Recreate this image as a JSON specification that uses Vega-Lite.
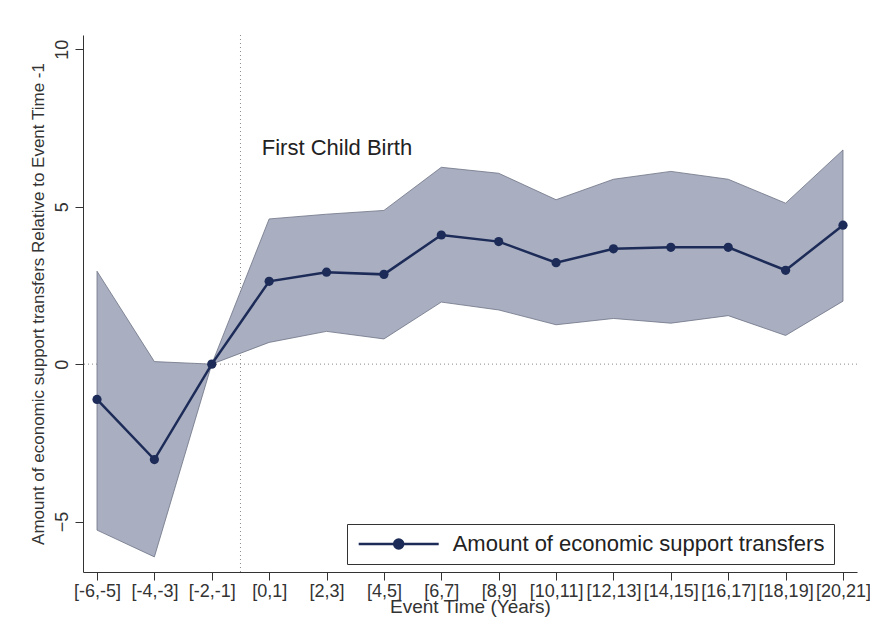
{
  "$schema": "https://vega.github.io/schema/vega-lite/v6.json",
  "description": "Event study: economic support transfers around first child birth",
  "autosize": {"type": "none"},
  "padding": {"left": 83, "top": 35, "right": 13, "bottom": 63},
  "width": 774,
  "height": 537,
  "background": "white",
  "config": {
    "font": "Liberation Sans",
    "view": {"stroke": null},
    "axis": {
      "grid": false,
      "domainColor": "#333333",
      "tickColor": "#333333",
      "tickSize": 8,
      "labelColor": "#333333",
      "titleColor": "#333333",
      "titleFontWeight": "normal",
      "labelFont": "Liberation Sans",
      "titleFont": "Liberation Sans"
    }
  },
  "datasets": {
    "estimates": [
      {"period": "[-6,-5]", "est": -1.12, "lo": -5.27, "hi": 2.95},
      {"period": "[-4,-3]", "est": -3.03, "lo": -6.12, "hi": 0.08},
      {"period": "[-2,-1]", "est": 0, "lo": 0, "hi": 0},
      {"period": "[0,1]", "est": 2.63, "lo": 0.69, "hi": 4.61},
      {"period": "[2,3]", "est": 2.92, "lo": 1.04, "hi": 4.76},
      {"period": "[4,5]", "est": 2.85, "lo": 0.8, "hi": 4.88},
      {"period": "[6,7]", "est": 4.1, "lo": 1.97, "hi": 6.25},
      {"period": "[8,9]", "est": 3.89, "lo": 1.72, "hi": 6.06},
      {"period": "[10,11]", "est": 3.22, "lo": 1.25, "hi": 5.22},
      {"period": "[12,13]", "est": 3.66, "lo": 1.45, "hi": 5.87},
      {"period": "[14,15]", "est": 3.71, "lo": 1.3, "hi": 6.12},
      {"period": "[16,17]", "est": 3.71, "lo": 1.54, "hi": 5.87},
      {"period": "[18,19]", "est": 2.98, "lo": 0.91, "hi": 5.11},
      {"period": "[20,21]", "est": 4.41, "lo": 2.0, "hi": 6.8}
    ],
    "single": [{}]
  },
  "data": {"name": "estimates"},
  "encoding": {
    "x": {
      "field": "period",
      "type": "ordinal",
      "sort": null,
      "scale": {
        "type": "point",
        "padding": 0.244,
        "domain": ["[-6,-5]", "[-4,-3]", "[-2,-1]", "[0,1]", "[2,3]", "[4,5]", "[6,7]", "[8,9]", "[10,11]", "[12,13]", "[14,15]", "[16,17]", "[18,19]", "[20,21]"]
      },
      "axis": {
        "title": "Event Time (Years)",
        "labelAngle": 0,
        "labelFontSize": 18,
        "labelPadding": 2,
        "labelOverlap": false,
        "titleFontSize": 19,
        "titlePadding": -3
      }
    }
  },
  "layer": [
    {
      "data": {"name": "single"},
      "mark": {"type": "rule", "color": "#8a8a8a", "strokeDash": [1, 3], "strokeWidth": 1},
      "encoding": {"x": null, "y": {"datum": 0, "type": "quantitative"}}
    },
    {
      "data": {"name": "single"},
      "mark": {"type": "rule", "color": "#8a8a8a", "strokeDash": [1, 3], "strokeWidth": 1, "xOffset": 28.7},
      "encoding": {"x": {"datum": "[-2,-1]", "type": "ordinal"}}
    },
    {
      "mark": {"type": "area", "color": "#a9aec0", "stroke": "#6d7385", "strokeWidth": 0.8, "opacity": 1},
      "encoding": {
        "y": {
          "field": "lo",
          "type": "quantitative",
          "scale": {"domain": [-6.6, 10.45], "nice": false, "zero": false},
          "axis": {
            "title": "Amount of economic support transfers Relative to Event Time -1",
            "values": [-5, 0, 5, 10],
            "labelAngle": -90,
            "labelAlign": "center",
            "labelBaseline": "bottom",
            "labelFontSize": 18,
            "labelPadding": 4,
            "titleFontSize": 17,
            "titlePadding": 6
          }
        },
        "y2": {"field": "hi"}
      }
    },
    {
      "mark": {"type": "line", "color": "#1c2b57", "strokeWidth": 2.5},
      "encoding": {"y": {"field": "est", "type": "quantitative"}}
    },
    {
      "mark": {"type": "point", "filled": true, "size": 85, "opacity": 1},
      "encoding": {
        "y": {"field": "est", "type": "quantitative"},
        "color": {
          "datum": "Amount of economic support transfers",
          "type": "nominal",
          "scale": {"range": ["#1c2b57"]},
          "legend": {
            "title": null,
            "orient": "none",
            "legendX": 264,
            "legendY": 489,
            "direction": "vertical",
            "strokeColor": "#333333",
            "fillColor": "white",
            "padding": 9,
            "labelFontSize": 22,
            "labelColor": "#222222",
            "labelOffset": 43,
            "labelLimit": 600,
            "symbolOffset": 31.7,
            "symbolType": "M-10,0L10,0M-1.125,0A1.125,1.125,0,1,1,1.125,0A1.125,1.125,0,1,1,-1.125,0Z",
            "symbolSize": 64,
            "symbolFillColor": "#1c2b57",
            "symbolStrokeColor": "#1c2b57",
            "symbolStrokeWidth": 2.5,
            "encode": {
              "symbols": {
                "update": {
                  "fill": {"value": "#1c2b57"},
                  "stroke": {"value": "#1c2b57"},
                  "strokeWidth": {"value": 2.5},
                  "strokeOpacity": {"value": 1},
                  "opacity": {"value": 1}
                }
              }
            }
          }
        }
      }
    },
    {
      "data": {"name": "single"},
      "mark": {"type": "text", "align": "left", "baseline": "alphabetic", "fontSize": 22, "color": "#222222", "dx": 50},
      "encoding": {
        "x": {"datum": "[-2,-1]", "type": "ordinal"},
        "y": {"datum": 6.64, "type": "quantitative"},
        "text": {"value": "First Child Birth"}
      }
    }
  ]
}
